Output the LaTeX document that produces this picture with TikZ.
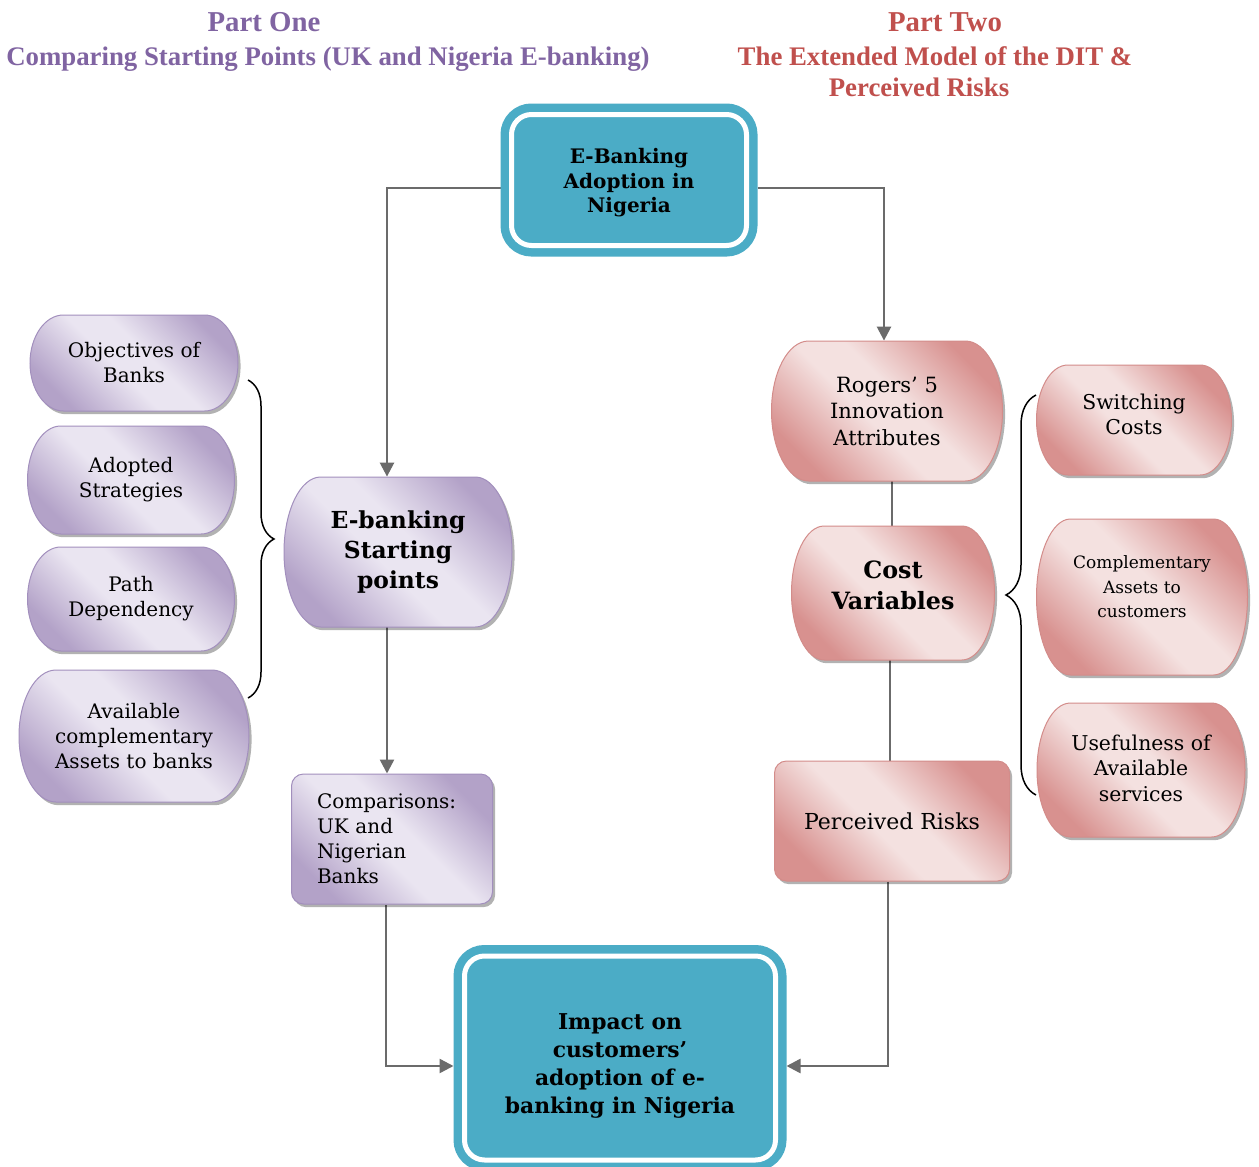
\documentclass[tikz,border=0pt]{standalone}
\usepackage{fontspec}
\setmainfont{DejaVu Serif}
\newfontfamily\titlefont{Liberation Serif}
\usetikzlibrary{arrows.meta,shadows,decorations.pathreplacing}
\pgfdeclarelayer{links}
\pgfdeclarelayer{shapes}
\pgfsetlayers{links,shapes,main}

\definecolor{tealbox}{HTML}{4BACC6}
\definecolor{purpdark}{HTML}{B3A2C8}
\definecolor{purplight}{HTML}{EAE5F1}
\definecolor{purpedge}{HTML}{A28FBD}
\definecolor{rosedark}{HTML}{D8918F}
\definecolor{roselight}{HTML}{F4E1E0}
\definecolor{roseedge}{HTML}{D38C8A}
\definecolor{linkgray}{HTML}{6B6B6B}
\definecolor{titlepurple}{HTML}{8064A2}
\definecolor{titlered}{HTML}{C0504D}

% diagonal fills: darker corners, soft light band through the middle
\pgfdeclarehorizontalshading{purpband}{100bp}{color(0bp)=(purpdark); color(25bp)=(purpdark);
  color(45bp)=(purplight); color(55bp)=(purplight); color(75bp)=(purpdark); color(100bp)=(purpdark)}
\pgfdeclarehorizontalshading{roseband}{100bp}{color(0bp)=(rosedark); color(25bp)=(rosedark);
  color(45bp)=(roselight); color(55bp)=(roselight); color(75bp)=(rosedark); color(100bp)=(rosedark)}

% terminator outline (flat top and bottom, half-elliptic ends) behind node #1
\newcommand\drawterm[4]{%
  \pgfmathsetmacro\tmW{#3/2}\pgfmathsetmacro\tmH{#4/2}\pgfmathsetmacro\tmR{0.161*#3}%
  \begin{pgfonlayer}{shapes}
  \begin{scope}[shift={(#1.center)},x=1pt,y=1pt]
    \path[#2] (-\tmW+\tmR,\tmH) -- (\tmW-\tmR,\tmH)
      arc[start angle=90,end angle=-90,x radius=\tmR,y radius=\tmH]
      -- (-\tmW+\tmR,-\tmH)
      arc[start angle=270,end angle=90,x radius=\tmR,y radius=\tmH] -- cycle;
  \end{scope}
  \end{pgfonlayer}}
% invisible struts that move a block of lines up (extra depth) or down (extra height)
\newcommand\liftby[1]{\rule[-#1]{0pt}{#1}}
\newcommand\sinkby[1]{\rule{0pt}{#1}}

\tikzset{
  softshadow/.style={drop shadow={shadow xshift=1.3pt,shadow yshift=-1.6pt,fill=black,opacity=0.3}},
  purpfill/.style={draw=purpedge,line width=0.5pt,shading=purpband,shading angle=45,softshadow},
  rosefill/.style={draw=roseedge,line width=0.5pt,shading=roseband,shading angle=45,softshadow},
  termtext/.style={inner sep=0pt,align=center,text=black},
  regular/.style={font=\fontsize{10}{12.5}\selectfont},
  tealnode/.style={draw=tealbox,line width=4.25pt,double=white,double distance=2.5pt,
    fill=tealbox,rounded corners=10pt,outer sep=5.5pt,inner sep=0pt,align=center,text=black},
  link/.style={draw=linkgray,line width=1.25pt},
  arrowlink/.style={link,-{Triangle[length=7pt,width=7pt]}},
  bracket/.style={draw=black,line width=0.75pt,decorate},
  heading/.style={font=\titlefont\fontsize{13.4}{16}\selectfont\bfseries,anchor=base,inner sep=0pt},
}

\begin{document}
\begin{tikzpicture}[x=0.5pt,y=-0.5pt]
\useasboundingbox (0,0) rectangle (1259,1167);
\begin{pgfonlayer}{links}
  \fill[white] (0,0) rectangle (1259,1167);
\end{pgfonlayer}

% headings
\node[heading,text=titlepurple,font=\titlefont\fontsize{14.4}{16}\selectfont\bfseries] (h1) at (264,32) {Part One};
\node[heading,text=titlepurple] (h2) at (328,65) {Comparing Starting Points (UK and Nigeria E-banking)};
\node[heading,text=titlered,font=\titlefont\fontsize{14.4}{16}\selectfont\bfseries] (h3) at (945,32) {Part Two};
\node[heading,text=titlered] (h4) at (935,65) {The Extended Model of the DIT \&};
\node[heading,text=titlered] (h5) at (919,96) {Perceived Risks};

% central column
\node[tealnode,minimum width=117.5pt,minimum height=65.5pt,
      font=\fontsize{10}{12.25}\selectfont\bfseries] (top) at (629,180)
      {\sinkby{10.6pt}E-Banking\\Adoption in\\Nigeria};
\node[tealnode,minimum width=155.5pt,minimum height=102pt,
      font=\fontsize{10.9}{14}\selectfont\bfseries] (imp) at (620,1058)
      {\sinkby{16.3pt}Impact on\\customers’\\adoption of e-\\banking in Nigeria};

% part one
\node[termtext,regular,minimum width=104pt,minimum height=48pt] (obj) at (134,363) {Objectives of\\Banks};
\drawterm{obj}{purpfill}{104}{48}
\node[termtext,regular,minimum width=103.5pt,minimum height=54pt] (ado) at (131,480) {Adopted\\Strategies};
\drawterm{ado}{purpfill}{103.5}{54}
\node[termtext,regular,minimum width=103.5pt,minimum height=52pt] (pat) at (131,599) {Path\\Dependency};
\drawterm{pat}{purpfill}{103.5}{52}
\node[termtext,regular,minimum width=115pt,minimum height=66pt] (ava) at (134,736) {Available\\complementary\\Assets to banks};
\drawterm{ava}{purpfill}{115}{66}
\node[termtext,font=\fontsize{11.7}{15}\selectfont\bfseries,minimum width=114pt,minimum height=75pt] (sp) at (398,552) {E-banking\\Starting\\points};
\drawterm{sp}{purpfill}{114}{75}
\node[purpfill,rounded corners=6pt,regular,align=left,text width=75pt,inner xsep=12.75pt,
      minimum height=65pt] (cmp) at (392,839) {Comparisons:\\UK and\\Nigerian\\Banks};

% part two
\node[termtext,font=\fontsize{10.5}{13.25}\selectfont,minimum width=115.5pt,minimum height=70pt] (rog) at (887,411) {Rogers’ 5\\Innovation\\Attributes};
\drawterm{rog}{rosefill}{115.5}{70}
\node[termtext,font=\fontsize{11.9}{15.5}\selectfont\bfseries,minimum width=101.5pt,minimum height=67pt] (cost) at (893,593) {Cost\\Variables\liftby{8pt}};
\drawterm{cost}{rosefill}{101.5}{67}
\node[rosefill,rounded corners=6pt,font=\fontsize{11}{13}\selectfont,inner sep=0pt,
      minimum width=117.5pt,minimum height=60pt] (risk) at (892,821) {Perceived Risks};
\node[termtext,font=\fontsize{10.2}{12.5}\selectfont,minimum width=97.5pt,minimum height=55pt] (sw) at (1134,420) {Switching\\Costs\liftby{6pt}};
\drawterm{sw}{rosefill}{97.5}{55}
\node[termtext,font=\fontsize{8.5}{12.25}\selectfont,minimum width=105.5pt,minimum height=78pt] (comp) at (1142,597) {Complementary\\Assets to\\customers\liftby{10pt}};
\drawterm{comp}{rosefill}{105.5}{78}
\node[termtext,font=\fontsize{10.2}{12.75}\selectfont,minimum width=104pt,minimum height=67pt] (use) at (1141,770) {Usefulness of\\Available\\services\liftby{2pt}};
\drawterm{use}{rosefill}{104}{67}

% braces
\draw[bracket,decoration={brace,amplitude=13pt}] (248,380) -- (248,698);
\draw[bracket,decoration={brace,amplitude=15pt}] (1036,795) -- (1036,395);

% connectors
\coordinate (jl) at (387,188);
\coordinate (jr) at (884,188);
\coordinate (jb) at (386,1066);
\coordinate (jc) at (888,1066);
\coordinate (xa) at (892,0);
\coordinate (xb) at (890,0);
\begin{pgfonlayer}{links}
  \draw[arrowlink] (top.west |- jl) -- (jl) -- (jl |- sp.north);
  \draw[arrowlink] (top.east |- jr) -- (jr) -- (jr |- rog.north);
  \draw[arrowlink] (jl |- sp.south) -- (jl |- cmp.north);
  \draw[arrowlink] (jb |- cmp.south) -- (jb) -- (jb -| imp.west);
  \draw[arrowlink] (jc |- risk.south) -- (jc) -- (jc -| imp.east);
  \draw[link] (xa |- rog.south) -- (xa |- cost.north);
  \draw[link] (xb |- cost.south) -- (xb |- risk.north);
\end{pgfonlayer}
\end{tikzpicture}
\end{document}
